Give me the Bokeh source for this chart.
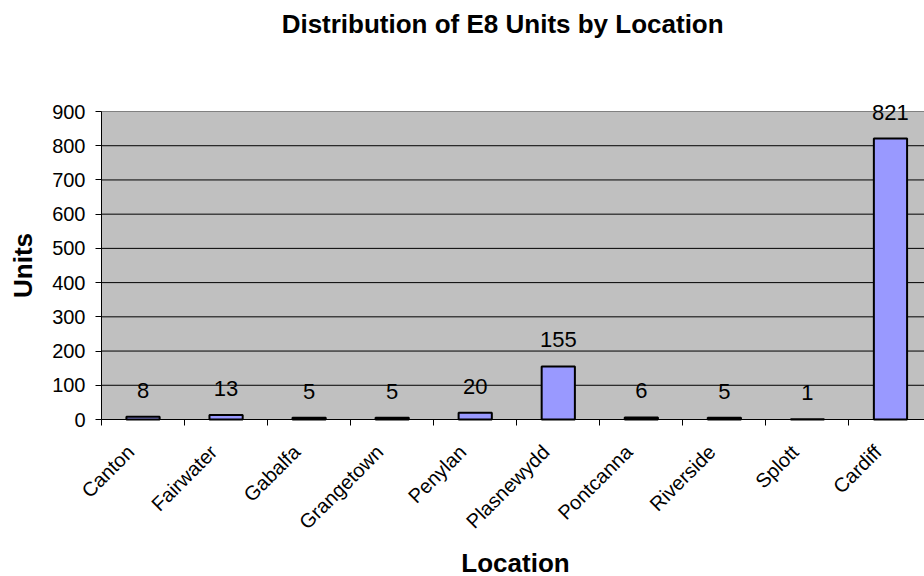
import math
from bokeh.plotting import figure
from bokeh.models import ColumnDataSource, Range1d, FixedTicker, LabelSet, Label
from bokeh.core.properties import value
from bokeh.embed import file_html
from bokeh.resources import INLINE

# Data
locations = ["Canton", "Fairwater", "Gabalfa", "Grangetown", "Penylan",
             "Plasnewydd", "Pontcanna", "Riverside", "Splott", "Cardiff"]
units = [8, 13, 5, 5, 20, 155, 6, 5, 1, 821]
y_ticks = [0, 100, 200, 300, 400, 500, 600, 700, 800, 900]
title_text = "Distribution of E8 Units by Location"
x_title = "Location"
y_title = "Units"

FONT = "Liberation Sans"
W, H = 924, 576

# pixel layout of the plot area
LEFT_PX, TOP_PX, BOTTOM_PX = 101, 111, 419
CAT_PX = 83.05
Y_MAX = 900
px_per_y = (BOTTOM_PX - TOP_PX) / Y_MAX

x_start = -LEFT_PX / CAT_PX
x_end = (W - LEFT_PX) / CAT_PX
y_start = -(H - BOTTOM_PX) / px_per_y
y_end = BOTTOM_PX / px_per_y

centers = [i + 0.5 for i in range(len(locations))]
label_pos = [c - 0.15 for c in centers]
boundaries = [i for i in range(len(locations) + 1)]

src = ColumnDataSource(dict(x=centers, top=units, lab=[str(u) for u in units]))

p = figure(width=W, height=H, output_backend="svg", toolbar_location=None,
           x_range=Range1d(x_start, x_end), y_range=Range1d(y_start, y_end),
           min_border_left=0, min_border_right=0, min_border_top=0,
           min_border_bottom=0)

p.background_fill_color = "white"
p.border_fill_color = "white"
p.outline_line_color = None
p.xgrid.visible = False
p.ygrid.visible = False

# plot-area background (0..900)
bg = p.quad(left=0, right=x_end + 1, bottom=0, top=Y_MAX,
            fill_color="#C0C0C0", line_color="#808080", line_width=1)
bg.level = "image"

# horizontal gridlines
grid_y = y_ticks[1:-1]
p.segment(x0=[0] * len(grid_y), x1=[x_end + 1] * len(grid_y), y0=grid_y, y1=grid_y,
          line_color="black", line_width=1)

p.vbar(x="x", top="top", width=0.4, bottom=0, source=src,
       fill_color="#9999FF", line_color="black", line_width=2)

labels = LabelSet(x="x", y="top", text="lab", source=src, text_align="center",
                  text_baseline="alphabetic", y_offset=19,
                  text_font=value(FONT), text_font_size="22px", text_color="black")
p.add_layout(labels)

# Title and axis titles
p.add_layout(Label(x=4.83, y=Y_MAX, text=title_text, text_align="center",
                   text_baseline="middle", y_offset=88,
                   text_font=FONT, text_font_size="26px", text_font_style="bold",
                   text_color="black"))
p.add_layout(Label(x=4.985, y=0, text=x_title, text_align="center",
                   text_baseline="alphabetic", y_offset=-143,
                   text_font=FONT, text_font_size="26px", text_font_style="bold",
                   text_color="black"))
p.add_layout(Label(x=0, y=Y_MAX / 2, text=y_title, text_align="center",
                   text_baseline="middle", x_offset=-78.5, angle=math.pi / 2,
                   text_font=FONT, text_font_size="26px", text_font_style="bold",
                   text_color="black"))

# X axis
xa = p.xaxis[0]
xa.fixed_location = 0
xa.bounds = (0, x_end)
xa.ticker = FixedTicker(ticks=label_pos, minor_ticks=boundaries)
xa.major_label_overrides = {c: n for c, n in zip(label_pos, locations)}
xa.major_tick_out = 0
xa.major_tick_in = 0
xa.minor_tick_out = 6
xa.minor_tick_in = 0
xa.minor_tick_line_color = "black"
xa.axis_line_color = "black"
xa.major_label_orientation = math.pi / 4
xa.major_label_text_font = FONT
xa.major_label_text_font_size = "20px"
xa.major_label_text_color = "black"
xa.major_label_standoff = 23

# Y axis
ya = p.yaxis[0]
ya.fixed_location = 0
ya.bounds = (0, Y_MAX)
ya.ticker = FixedTicker(ticks=y_ticks)
ya.major_tick_out = 6
ya.major_tick_in = 0
ya.minor_tick_out = 0
ya.minor_tick_in = 0
ya.axis_line_color = "black"
ya.major_label_text_font = FONT
ya.major_label_text_font_size = "20px"
ya.major_label_text_color = "black"
ya.major_label_standoff = 10

open("out.html", "w").write(file_html(p, INLINE))
